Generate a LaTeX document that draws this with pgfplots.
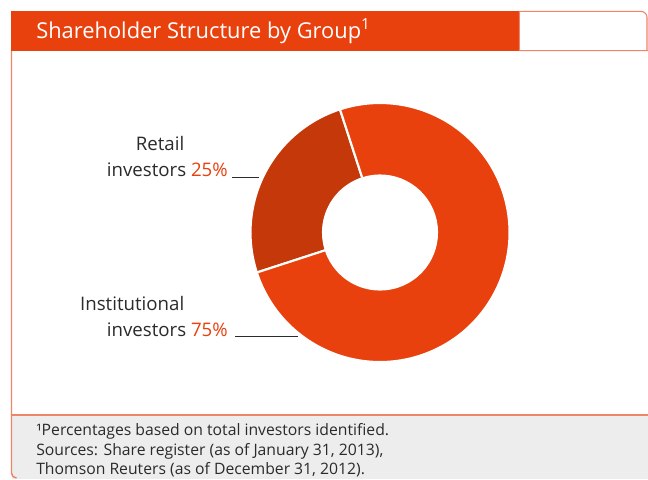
\documentclass[border=0pt]{standalone}
\usepackage{pgfplots}
\pgfplotsset{compat=1.18}
\usepackage{fontspec}
\setmainfont{Open Sans}
\definecolor{dborange}{HTML}{E8410E}
\definecolor{retailc}{HTML}{C4380A}
\definecolor{frame}{HTML}{EE8468}
\definecolor{graybg}{HTML}{EDEDED}
\definecolor{txt}{HTML}{2B2B2B}
\begin{document}
\begin{tikzpicture}[x=0.75pt,y=0.75pt]
\useasboundingbox (0,0) rectangle (648,479);
% background frame
\fill[white] (0,0) rectangle (648,479);
\fill[graybg] (11.5,0) rectangle (648,64);
\draw[frame,line width=1.1pt] (11.5,428) -- (11.5,6) arc[start angle=180,end angle=270,radius=5];
\draw[frame,line width=1.1pt] (11.5,64) -- (648,64);
\fill[dborange] (11,428) rectangle (519.3,468);
\draw[frame,line width=0.8pt] (519.3,428.4) -- (519.3,467.6) -- (641,467.6) arc[start angle=90,end angle=0,radius=6] -- (647,428.4) -- cycle;
\draw[frame,line width=0.8pt] (519.3,428.4) -- (648,428.4);
% title
\node[anchor=base west,inner sep=0pt,text=white,font=\fontsize{16.4}{19}\selectfont] at (36,440.7) {Shareholder Structure by Group\textsuperscript{1}};
% footnote
\begin{scope}[every node/.style={anchor=base west,inner sep=0pt,text=txt,font=\fontsize{11.8}{13}\selectfont}]
\node at (36,43.3) {¹Percentages based on total investors identified.};
\node at (36,24) {Sources: Share register (as of January 31, 2013),};
\node at (36,5) {Thomson Reuters (as of December 31, 2012).};
\end{scope}
% labels
\begin{scope}[every node/.style={anchor=base east,inner sep=0pt,text=txt,font=\fontsize{14}{16}\selectfont}]
\node at (184.5,329) {Retail};
\node at (228,302.3) {investors \textcolor{dborange}{25\%}};
\node at (184.5,169) {Institutional};
\node at (228,143) {investors \textcolor{dborange}{75\%}};
\end{scope}
\draw[txt,line width=0.7pt] (232,301.3) -- (259,301.3);
\draw[txt,line width=0.7pt] (235,142.3) -- (298,142.3);
% donut
\pgfmathsetmacro{\retail}{25}
\pgfmathsetmacro{\inst}{75}
\pgfmathsetmacro{\aA}{108}
\pgfmathsetmacro{\aB}{\aA+3.6*\retail}
\pgfmathsetmacro{\aC}{\aB+3.6*\inst}
\begin{axis}[at={(285pt,184.875pt)},anchor=center,scale only axis,
  width=194.25pt,height=194.25pt,xmin=-1,xmax=1,ymin=-1,ymax=1,
  hide axis,clip=false]
\filldraw[retailc,draw=white,line width=1.6pt]
  (axis cs:{cos(\aA)},{sin(\aA)}) arc[start angle=\aA,end angle=\aB,radius=1]
  -- (axis cs:{0.44*cos(\aB)},{0.44*sin(\aB)}) arc[start angle=\aB,end angle=\aA,radius=0.44] -- cycle;
\filldraw[dborange,draw=white,line width=1.6pt]
  (axis cs:{cos(\aB)},{sin(\aB)}) arc[start angle=\aB,end angle=\aC,radius=1]
  -- (axis cs:{0.44*cos(\aC)},{0.44*sin(\aC)}) arc[start angle=\aC,end angle=\aB,radius=0.44] -- cycle;
\end{axis}
\end{tikzpicture}
\end{document}
